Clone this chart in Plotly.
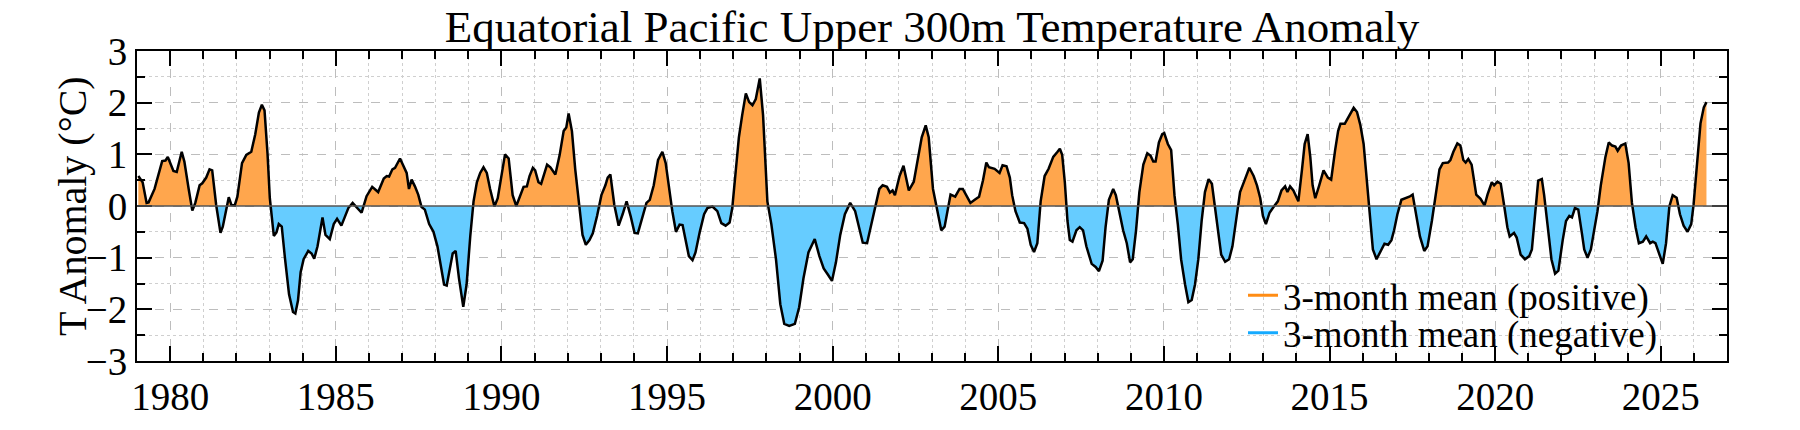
import numpy as np
import plotly.graph_objects as go

# ---- data (decimal year, 3-month mean anomaly in degC) ----
years = [
    1979.04, 1979.17, 1979.29, 1979.35, 1979.53, 1979.76, 1979.86, 1979.93, 1980.10, 1980.20,
    1980.35, 1980.43, 1980.56, 1980.67, 1980.76, 1980.89, 1980.97, 1981.09, 1981.19, 1981.27,
    1981.39, 1981.52, 1981.59, 1981.77, 1981.85, 1981.95, 1982.03, 1982.17, 1982.30, 1982.45,
    1982.57, 1982.68, 1982.77, 1982.85, 1982.94, 1983.01, 1983.13, 1983.21, 1983.28, 1983.37,
    1983.47, 1983.59, 1983.71, 1983.78, 1983.86, 1983.94, 1984.03, 1984.17, 1984.27, 1984.35,
    1984.45, 1984.60, 1984.69, 1984.82, 1984.94, 1985.04, 1985.17, 1985.29, 1985.38, 1985.51,
    1985.66, 1985.78, 1985.93, 1986.10, 1986.28, 1986.45, 1986.54, 1986.61, 1986.71, 1986.79,
    1986.94, 1987.06, 1987.14, 1987.21, 1987.29, 1987.39, 1987.49, 1987.59, 1987.69, 1987.82,
    1987.95, 1988.07, 1988.17, 1988.27, 1988.35, 1988.45, 1988.53, 1988.62, 1988.72, 1988.85,
    1988.95, 1989.06, 1989.16, 1989.26, 1989.36, 1989.46, 1989.56, 1989.66, 1989.79, 1989.89,
    1989.99, 1990.11, 1990.22, 1990.34, 1990.45, 1990.57, 1990.67, 1990.77, 1990.85, 1990.95,
    1991.02, 1991.12, 1991.20, 1991.38, 1991.48, 1991.63, 1991.76, 1991.88, 1991.96, 1992.03,
    1992.13, 1992.23, 1992.36, 1992.45, 1992.55, 1992.66, 1992.76, 1992.89, 1993.02, 1993.14,
    1993.21, 1993.29, 1993.41, 1993.54, 1993.66, 1993.78, 1993.90, 1994.02, 1994.12, 1994.25,
    1994.38, 1994.48, 1994.60, 1994.73, 1994.86, 1994.96, 1995.06, 1995.16, 1995.27, 1995.38,
    1995.47, 1995.56, 1995.66, 1995.77, 1995.86, 1995.99, 1996.12, 1996.22, 1996.37, 1996.52,
    1996.64, 1996.77, 1996.89, 1996.97, 1997.07, 1997.17, 1997.27, 1997.38, 1997.48, 1997.58,
    1997.68, 1997.80, 1997.90, 1998.03, 1998.15, 1998.29, 1998.42, 1998.54, 1998.69, 1998.86,
    1998.99, 1999.12, 1999.27, 1999.46, 1999.60, 1999.73, 1999.87, 1999.98, 2000.10, 2000.23,
    2000.37, 2000.53, 2000.68, 2000.81, 2000.91, 2001.04, 2001.16, 2001.28, 2001.41, 2001.51,
    2001.64, 2001.73, 2001.81, 2001.88, 2002.02, 2002.14, 2002.30, 2002.45, 2002.57, 2002.69,
    2002.81, 2002.90, 2003.03, 2003.15, 2003.28, 2003.38, 2003.48, 2003.56, 2003.70, 2003.83,
    2003.93, 2004.03, 2004.16, 2004.29, 2004.42, 2004.54, 2004.64, 2004.72, 2004.89, 2005.04,
    2005.13, 2005.25, 2005.35, 2005.42, 2005.52, 2005.65, 2005.78, 2005.88, 2005.98, 2006.08,
    2006.18, 2006.28, 2006.40, 2006.52, 2006.66, 2006.79, 2006.86, 2006.93, 2007.01, 2007.09,
    2007.16, 2007.24, 2007.36, 2007.46, 2007.56, 2007.66, 2007.82, 2007.94, 2008.04, 2008.15,
    2008.24, 2008.34, 2008.47, 2008.55, 2008.67, 2008.77, 2008.88, 2008.98, 2009.06, 2009.16,
    2009.26, 2009.38, 2009.50, 2009.60, 2009.68, 2009.75, 2009.85, 2009.95, 2010.01, 2010.12,
    2010.22, 2010.32, 2010.42, 2010.52, 2010.64, 2010.74, 2010.84, 2010.94, 2011.04, 2011.14,
    2011.24, 2011.35, 2011.45, 2011.55, 2011.65, 2011.73, 2011.85, 2011.97, 2012.07, 2012.17,
    2012.30, 2012.45, 2012.58, 2012.71, 2012.81, 2012.91, 2012.99, 2013.08, 2013.19, 2013.31,
    2013.44, 2013.55, 2013.66, 2013.73, 2013.81, 2013.91, 2014.06, 2014.17, 2014.25, 2014.34,
    2014.42, 2014.49, 2014.57, 2014.69, 2014.82, 2014.95, 2015.05, 2015.17, 2015.26, 2015.33,
    2015.46, 2015.53, 2015.61, 2015.73, 2015.83, 2015.93, 2016.03, 2016.13, 2016.23, 2016.31,
    2016.42, 2016.54, 2016.66, 2016.77, 2016.87, 2016.95, 2017.05, 2017.17, 2017.31, 2017.41,
    2017.51, 2017.61, 2017.73, 2017.86, 2017.96, 2018.09, 2018.22, 2018.32, 2018.42, 2018.58,
    2018.65, 2018.74, 2018.86, 2018.95, 2019.04, 2019.11, 2019.19, 2019.29, 2019.43, 2019.56,
    2019.68, 2019.77, 2019.90, 2019.97, 2020.07, 2020.17, 2020.27, 2020.37, 2020.44, 2020.57,
    2020.65, 2020.77, 2020.90, 2021.03, 2021.11, 2021.21, 2021.30, 2021.41, 2021.48, 2021.58,
    2021.70, 2021.81, 2021.91, 2022.04, 2022.14, 2022.24, 2022.32, 2022.41, 2022.51, 2022.62,
    2022.69, 2022.79, 2022.89, 2022.99, 2023.09, 2023.19, 2023.33, 2023.43, 2023.53, 2023.63,
    2023.70, 2023.80, 2023.93, 2024.03, 2024.13, 2024.24, 2024.34, 2024.46, 2024.56, 2024.68,
    2024.76, 2024.84, 2024.94, 2025.06, 2025.16, 2025.26, 2025.36, 2025.48, 2025.58, 2025.69,
    2025.81, 2025.92, 2025.99, 2026.09, 2026.20, 2026.30, 2026.38,
]
anomaly = [
    0.58, 0.46, 0.06, 0.07, 0.33, 0.87, 0.88, 0.95, 0.68, 0.66,
    1.05, 0.86, 0.33, -0.09, 0.06, 0.40, 0.44, 0.55, 0.71, 0.69,
    0.02, -0.52, -0.40, 0.17, 0.02, 0.01, 0.18, 0.83, 0.99, 1.05,
    1.39, 1.81, 1.96, 1.85, 1.02, 0.15, -0.58, -0.51, -0.35, -0.40,
    -1.03, -1.71, -2.05, -2.08, -1.83, -1.28, -1.03, -0.87, -0.92, -1.02,
    -0.78, -0.22, -0.56, -0.64, -0.35, -0.25, -0.38, -0.19, -0.04, 0.06,
    -0.05, -0.13, 0.19, 0.37, 0.27, 0.53, 0.58, 0.57, 0.71, 0.74,
    0.92, 0.74, 0.64, 0.33, 0.51, 0.38, 0.22, -0.02, -0.07, -0.35,
    -0.50, -0.78, -1.15, -1.52, -1.54, -1.18, -0.92, -0.87, -1.40, -1.95,
    -1.52, -0.59, 0.09, 0.46, 0.64, 0.75, 0.64, 0.33, -0.01, 0.15,
    0.58, 1.00, 0.92, 0.21, 0.00, 0.22, 0.37, 0.38, 0.58, 0.74,
    0.69, 0.46, 0.43, 0.80, 0.75, 0.61, 0.99, 1.45, 1.52, 1.79,
    1.45, 0.71, -0.10, -0.56, -0.75, -0.66, -0.53, -0.19, 0.21, 0.40,
    0.55, 0.61, 0.02, -0.38, -0.16, 0.09, -0.19, -0.52, -0.53, -0.21,
    0.06, 0.12, 0.40, 0.89, 1.05, 0.83, 0.33, -0.10, -0.50, -0.36,
    -0.37, -0.66, -0.97, -1.05, -0.90, -0.50, -0.16, -0.04, -0.01, -0.10,
    -0.33, -0.38, -0.32, -0.04, 0.71, 1.33, 1.76, 2.18, 2.01, 1.95,
    2.07, 2.47, 1.76, 0.09, -0.35, -1.03, -1.90, -2.28, -2.32, -2.28,
    -1.96, -1.40, -0.90, -0.64, -0.97, -1.21, -1.34, -1.45, -1.09, -0.56,
    -0.16, 0.06, -0.10, -0.44, -0.71, -0.72, -0.38, 0.02, 0.33, 0.40,
    0.37, 0.26, 0.30, 0.21, 0.58, 0.78, 0.30, 0.47, 0.89, 1.33,
    1.56, 1.33, 0.33, -0.07, -0.47, -0.40, -0.04, 0.22, 0.18, 0.33,
    0.33, 0.21, 0.06, 0.12, 0.18, 0.50, 0.84, 0.75, 0.72, 0.64,
    0.79, 0.77, 0.55, 0.21, -0.10, -0.32, -0.33, -0.44, -0.75, -0.89,
    -0.72, 0.09, 0.58, 0.72, 0.95, 1.05, 1.11, 0.99, 0.46, -0.29,
    -0.66, -0.69, -0.47, -0.41, -0.47, -0.78, -1.12, -1.18, -1.26, -1.06,
    -0.41, 0.12, 0.33, 0.21, -0.16, -0.47, -0.72, -1.09, -1.03, -0.47,
    0.27, 0.80, 1.02, 0.97, 0.86, 0.86, 1.23, 1.39, 1.41, 1.20,
    1.08, 0.21, -0.35, -1.03, -1.52, -1.86, -1.82, -1.52, -1.03, -0.29,
    0.27, 0.52, 0.43, -0.04, -0.59, -0.94, -1.08, -1.03, -0.78, -0.29,
    0.27, 0.52, 0.74, 0.58, 0.40, 0.15, -0.19, -0.35, -0.13, -0.02,
    0.09, 0.30, 0.38, 0.27, 0.38, 0.30, 0.09, 0.71, 1.20, 1.39,
    0.95, 0.40, 0.15, 0.40, 0.69, 0.55, 0.51, 1.08, 1.45, 1.59,
    1.59, 1.67, 1.77, 1.90, 1.82, 1.57, 1.20, 0.46, -0.35, -0.84,
    -1.03, -0.87, -0.73, -0.75, -0.66, -0.47, -0.16, 0.12, 0.15, 0.18,
    0.22, -0.16, -0.59, -0.87, -0.78, -0.29, 0.33, 0.71, 0.83, 0.84,
    0.89, 1.05, 1.21, 1.17, 0.89, 0.84, 0.91, 0.80, 0.22, 0.14,
    0.01, 0.22, 0.46, 0.40, 0.47, 0.43, 0.02, -0.41, -0.59, -0.52,
    -0.61, -0.94, -1.03, -0.97, -0.84, -0.16, 0.49, 0.52, 0.21, -0.35,
    -1.03, -1.31, -1.25, -0.66, -0.29, -0.19, -0.22, -0.04, -0.07, -0.53,
    -0.84, -1.00, -0.84, -0.47, -0.10, 0.40, 0.95, 1.23, 1.17, 1.15,
    1.07, 1.17, 1.21, 0.83, 0.06, -0.41, -0.72, -0.69, -0.59, -0.72,
    -0.69, -0.72, -0.90, -1.12, -0.72, -0.01, 0.21, 0.16, -0.16, -0.38,
    -0.50, -0.35, 0.02, 0.83, 1.60, 1.91, 2.01,
]

title_text = "Equatorial Pacific Upper 300m Temperature Anomaly"
y_title = "T Anomaly (°C)"
legend_pos = "3-month mean (positive)"
legend_neg = "3-month mean (negative)"
x_range = [1979, 2027]
y_range = [-3, 3]

# ---- split into positive / negative parts with zero crossings inserted ----
x = np.asarray(years, dtype=float)
y = np.asarray(anomaly, dtype=float)
xs, ys = [x[0]], [y[0]]
for i in range(1, len(x)):
    if y[i - 1] * y[i] < 0:
        xc = x[i - 1] + (x[i] - x[i - 1]) * (-y[i - 1]) / (y[i] - y[i - 1])
        xs.append(xc)
        ys.append(0.0)
    xs.append(x[i])
    ys.append(y[i])
xs = np.array(xs)
ys = np.array(ys)
y_pos = np.where(ys > 0, ys, 0.0)
y_neg = np.where(ys < 0, ys, 0.0)

FONT = "Liberation Serif, Times New Roman, serif"
FILL_POS = "rgb(255,166,77)"
FILL_NEG = "rgb(102,204,255)"

# plot-area geometry in pixels
L, R, T, B = 137, 73, 51, 57
W, H = 1800, 430
PW = W - L - R
PH = H - T - B

fig = go.Figure()
fig.add_trace(go.Scatter(x=xs, y=y_pos, mode="lines", fill="tozeroy",
                         fillcolor=FILL_POS, line=dict(width=0, color=FILL_POS),
                         showlegend=False, hoverinfo="skip"))
fig.add_trace(go.Scatter(x=xs, y=y_neg, mode="lines", fill="tozeroy",
                         fillcolor=FILL_NEG, line=dict(width=0, color=FILL_NEG),
                         showlegend=False, hoverinfo="skip"))
fig.add_trace(go.Scatter(x=x, y=y, mode="lines", line=dict(color="black", width=2.5),
                         showlegend=False))
# legend-only entries (one legend each, for precise row placement)
fig.add_trace(go.Scatter(x=[None], y=[None], mode="lines", legend="legend",
                         line=dict(color="rgb(255,140,20)", width=3), name=legend_pos))
fig.add_trace(go.Scatter(x=[None], y=[None], mode="lines", legend="legend2",
                         line=dict(color="rgb(20,170,255)", width=3), name=legend_neg))

# zero line above the fills
fig.add_shape(type="line", xref="paper", x0=0, x1=1, yref="y", y0=0, y1=0,
              line=dict(color="#555555", width=1.5), layer="above")

# y-axis title as rotated annotation
fig.add_annotation(text=y_title, xref="paper", yref="paper",
                   x=(72 - L) / PW, y=0.5, xanchor="center", yanchor="middle",
                   textangle=-90, showarrow=False,
                   font=dict(family=FONT, size=40, color="black"))

axis_common = dict(
    showline=True, linewidth=2, linecolor="black", mirror="allticks",
    ticks="inside", ticklen=15, tickwidth=2, tickcolor="black",
    showgrid=True, gridcolor="#bdbdbd", gridwidth=1, griddash="dash",
    zeroline=False, tickfont=dict(family=FONT, size=39, color="black"),
)

fig.update_xaxes(
    range=x_range, tickmode="linear", tick0=1980, dtick=5,
    minor=dict(dtick=1, tick0=1979, ticks="inside", ticklen=8, tickwidth=1.5,
               tickcolor="black", showgrid=True, gridcolor="#cfcfcf",
               gridwidth=1, griddash="dot"),
    **axis_common,
)
fig.update_yaxes(
    range=y_range, tickmode="linear", tick0=0, dtick=1,
    minor=dict(dtick=0.5, ticks="inside", ticklen=8, tickwidth=1.5,
               tickcolor="black", showgrid=True, gridcolor="#cfcfcf",
               gridwidth=1, griddash="dot"),
    **axis_common,
)

legend_common = dict(xanchor="left", yanchor="top", bgcolor="rgba(0,0,0,0)", borderwidth=0,
                     font=dict(family=FONT, size=37, color="black"))

fig.update_layout(
    width=W, height=H,
    margin=dict(l=L, r=R, t=T, b=B),
    paper_bgcolor="white", plot_bgcolor="white",
    title=dict(text=title_text, x=(L + W - R) / 2 / W, xanchor="center",
               y=0.94, yanchor="middle", yref="container",
               font=dict(family=FONT, size=45, color="black")),
    legend=dict(x=(1243 - L) / PW, y=(H - B - 273) / PH, **legend_common),
    legend2=dict(x=(1243 - L) / PW, y=(H - B - 312) / PH, **legend_common),
    font=dict(family=FONT, color="black"),
)

fig.write_html("out.html")
